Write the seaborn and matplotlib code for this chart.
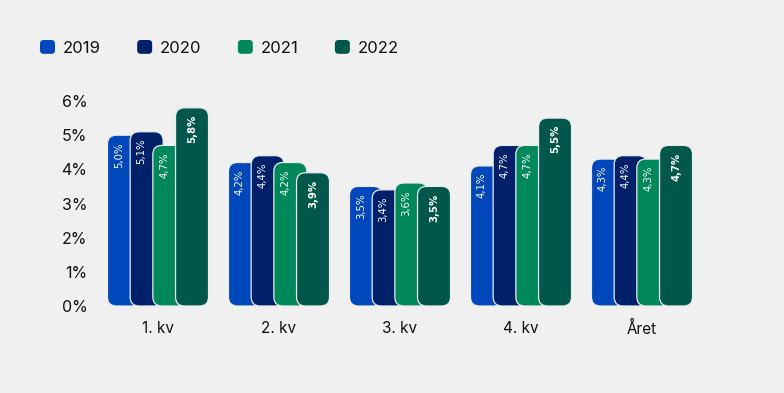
import matplotlib
matplotlib.use("Agg")
import matplotlib.pyplot as plt
import seaborn as sns
import pandas as pd
from matplotlib.patches import FancyBboxPatch, Patch
from matplotlib.legend_handler import HandlerPatch

# ---------------------------------------------------
# DATA
# ---------------------------------------------------

quarters = ["1. kv", "2. kv", "3. kv", "4. kv", "Året"]
years = ["2019", "2020", "2021", "2022"]

v2019 = [5.0, 4.2, 3.5, 4.1, 4.3]
v2020 = [5.1, 4.4, 3.4, 4.7, 4.4]
v2021 = [4.7, 4.2, 3.6, 4.7, 4.3]
v2022 = [5.8, 3.9, 3.5, 5.5, 4.7]

colors = ["#0047BB", "#002169", "#00875A", "#00574A"]
bg = "#F0F0F0"

rows = []
for year, vals in zip(years, [v2019, v2020, v2021, v2022]):
    for q, v in zip(quarters, vals):
        rows.append({"Kvartal": q, "År": year, "Verdi": v})
df = pd.DataFrame(rows)


# rounded squares for the legend
class RoundHandler(HandlerPatch):
    def create_artists(self, legend, orig_handle, xdescent, ydescent,
                       width, height, fontsize, trans):
        box = FancyBboxPatch(
            (-xdescent, -ydescent), width, height,
            boxstyle=f"round,pad=0,rounding_size={width * 0.25}",
            facecolor=orig_handle.get_facecolor(), edgecolor="none",
            transform=trans
        )
        return [box]


# ---------------------------------------------------
# PLOT
# ---------------------------------------------------

sns.set_style("white")
plt.rcParams["font.family"] = ["Inter", "DejaVu Sans"]

fig = plt.figure(figsize=(7.84, 3.93), dpi=100, facecolor=bg)
ax = fig.add_axes([100 / 784, 87 / 393, 600 / 784, 205 / 393])
ax.set_facecolor(bg)

sns.barplot(
    data=df, x="Kvartal", y="Verdi", hue="År",
    order=quarters, hue_order=years,
    palette=colors, width=0.75, legend=False, ax=ax
)

xlim = (-(158 - 100) / 121, 4 + (700 - 642) / 121)
ax.set_xlim(*xlim)
ax.set_ylim(0, 6)

# replace plain bars with overlapping rounded ones
x_per_px = (xlim[1] - xlim[0]) / 600
y_per_px = 6 / 205
bar_w = 33 * x_per_px
step = 22.7 * x_per_px

for hue_i, container in enumerate(ax.containers):
    for p in list(container):
        cx = p.get_x() + p.get_width() / 2
        h = p.get_height()
        p.remove()
        left = cx - bar_w / 2
        box = FancyBboxPatch(
            (left, 0), bar_w, h,
            boxstyle=f"round,pad=0,rounding_size={9 * x_per_px}",
            mutation_aspect=y_per_px / x_per_px,
            facecolor=colors[hue_i], edgecolor="#e8ecef", linewidth=0.9,
            zorder=2 + hue_i, clip_on=False
        )
        ax.add_patch(box)
        if hue_i < 3:
            tx = left + step / 2
        else:
            tx = cx
        ax.text(
            tx, h - 7 * y_per_px, f"{h:.1f}%".replace(".", ","),
            rotation=90, ha="center", va="top", color="white",
            fontsize=7.3, fontweight="bold" if hue_i == 3 else "normal",
            family="DejaVu Sans", zorder=10
        )

ax.set_yticks(range(7))
ax.set_yticklabels([f"{t}%" for t in range(7)], fontsize=11.5, color="#111111")
ax.tick_params(axis="both", length=0, pad=9)
ax.tick_params(axis="x", pad=11, labelsize=11, labelcolor="#111111")
ax.set_xlabel("")
ax.set_ylabel("")
sns.despine(ax=ax, left=True, bottom=True)

handles = [Patch(facecolor=c, edgecolor="none") for c in colors]
fig.legend(
    handles, years, loc="upper left",
    bbox_to_anchor=(40 / 784, 1 - 40 / 393),
    borderaxespad=0, borderpad=0,
    ncol=4, frameon=False, fontsize=12, labelcolor="#111111",
    handlelength=0.9, handleheight=0.9,
    handletextpad=0.45, columnspacing=2.2,
    handler_map={Patch: RoundHandler()}
)

fig.savefig("out.png", dpi=100, facecolor=bg)
